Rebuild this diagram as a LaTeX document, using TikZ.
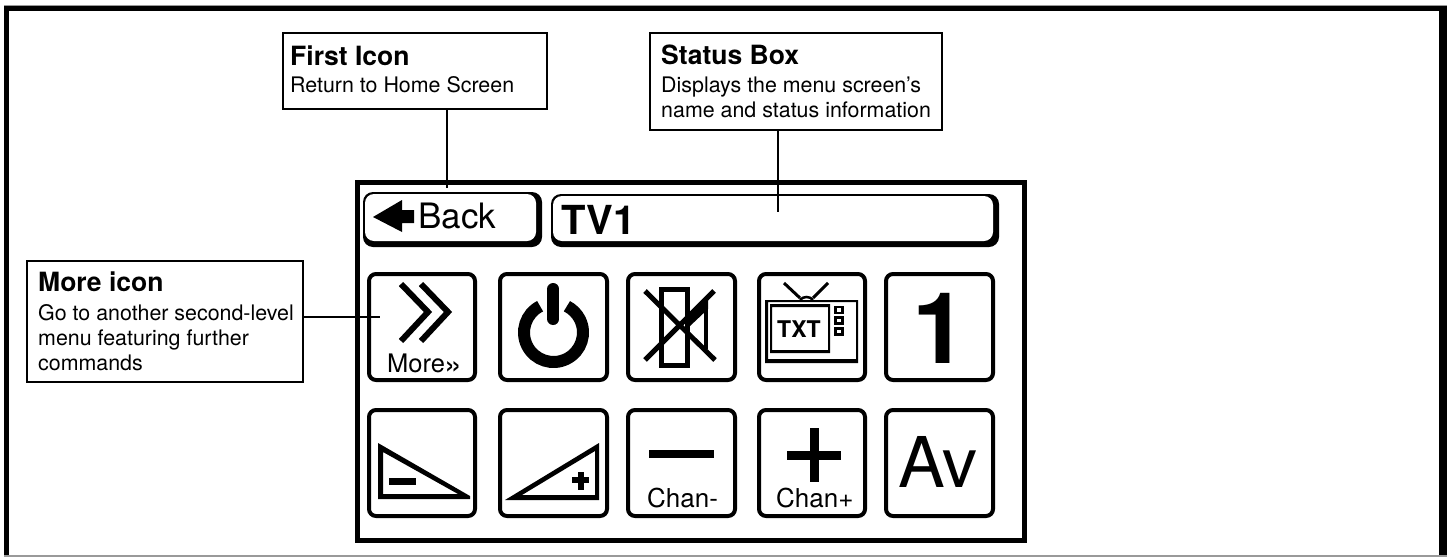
\documentclass[tikz,border=0pt]{standalone}
\usepackage{fontspec}
\setmainfont{TeX Gyre Heros}
\newcommand{\fs}[1]{\fontsize{#1}{#1}\selectfont}
\tikzset{
  x=1pt,y=-1pt,
  callout/.style={draw=black,line width=2.5pt,fill=white,inner sep=0pt},
  leader/.style={draw=black,line width=2.5pt},
  iconbox/.style={draw=black,line width=4pt,fill=white,rounded corners=7pt},
  txt/.style={inner sep=0pt,anchor=base west,text=black},
  glyph/.style={line width=6pt,draw=black,miter limit=10},
}
\begin{document}
\begin{tikzpicture}
\useasboundingbox (0,0) rectangle (1447,557);
\fill[white] (0,0) rectangle (1447,557);
% outer frame
\fill[black!40] (4,5) rectangle (1447,6);
\fill[black] (4,6) rectangle (9,555);
\fill[black] (4,6) rectangle (1447,11);
\fill[black] (1439,6) rectangle (1447,555);
\fill[black!40] (4,555) rectangle (1447,557);
% screen
\draw[line width=5pt] (357.5,182.5) rectangle (1024.5,540.5);
% Back
\fill[black,rounded corners=10pt] (363,192) rectangle (542,247);
\fill[white,rounded corners=9pt] (365,194) rectangle (536,241);
\fill (373,217) -- (402,200) -- (402,210) -- (414,210) -- (414,223) -- (402,223) -- (402,232) -- cycle;
\node[txt] (backlabel) at (418,228) {\fs{35}Back};
% Status
\fill[black,rounded corners=10pt] (551,194) rectangle (999,247);
\fill[white,rounded corners=9pt] (553,196) rectangle (993,241);
\node[txt] (tv) at (561,234) {\fs{40}\bfseries TV1};
% icon boxes
\foreach \nm/\xa/\xb/\ya/\yb in {more/369/475/274/380,power/500/607/274/380,mute/628/735/274/380,txt/759/865/274/380,one/886/993/274/380,
  voldn/369/475/410/516,volup/500/607/410/516,chdn/628/735/410/516,chup/759/865/410/516,av/886/993/410/516}{
  \draw[iconbox] (\xa,\ya) rectangle (\xb,\yb);
  \coordinate (\nm) at (\xa,\ya);
}
% more
\draw[glyph] (401,284) -- (428,312) -- (401,341);
\draw[glyph] (421,284) -- (448,312) -- (421,341);
\node[txt] (morelabel) at (387,372) {\fs{25.5}More\hspace{-1pt}\raisebox{-3pt}{\fs{32}»}};
% power
\begin{scope}[shift={(553.5,332.5)},x=1pt,y=1pt]
\draw[line width=12pt] (117:29.5) arc[start angle=117,end angle=423,radius=29.5];
\end{scope}
\draw[line width=12pt,line cap=round] (553.3,289) -- (553.3,319);
% mute
\draw[line width=5pt] (661.5,289.5) rectangle (687.5,365.5);
\draw[line width=4pt] (705.5,303) -- (705.5,349);
\fill (688,319) -- (708,299) -- (708,309) -- (690,326) -- cycle;
\draw[line width=5pt] (645,291) -- (715,360);
\draw[line width=5pt] (714,291) -- (645,360);
% tv
\draw[line width=3pt] (784,283) -- (800,298) (828,283) -- (813,298);
\draw[line width=2.5pt] (800,300) .. controls (803,296) and (810,296) .. (813,300);
\fill[even odd rule] (765,300) rectangle (858,363) (768,302) rectangle (856,359);
\fill[even odd rule] (770,304) rectangle (830,353) (772,307) rectangle (828,350);
\node[txt] (txtlabel) at (777,337) {\fs{23}\bfseries TXT};
\draw[line width=2.5pt] (835.5,307) rectangle (842.5,313) (835.5,317.5) rectangle (842.5,323.5) (835.5,328.5) rectangle (842.5,334.5);
% one
\node[txt] (onelabel) at (912,363) {\fs{99}\bfseries 1};
% vol down
\fill[even odd rule] (378,443) -- (470,496) -- (470,499) -- (378,499) -- cycle (383,452) -- (458,494) -- (383,494) -- cycle;
\fill (389,478) rectangle (416,485);
% vol up
\fill[even odd rule] (599,443) -- (599,500) -- (505,500) -- cycle (595,451) -- (595,495) -- (522,495) -- cycle;
\fill (572,477) rectangle (589,483);
\fill (577.5,472) rectangle (584,490);
% chan-
\fill (649,450) rectangle (714,458);
\node[txt] (chdnlabel) at (647,507) {\fs{26}Chan-};
% chan+
\fill (787,451) rectangle (841,460);
\fill (810,428) rectangle (819,482);
\node[txt] (chuplabel) at (776,507) {\fs{26}Chan+};
% av
\node[txt] (avlabel) at (898,487) {\fs{70}Av};
% callouts
\draw[callout] (283,33) rectangle (547,109);
\coordinate (firstbox) at (447,109);
\coordinate (firstend) at (447,188);
\node[txt] (firsttitle) at (290,65) {\fs{26.5}\bfseries First Icon};
\node[txt] (firstbody) at (290,92) {\fs{21.4}Return to Home Screen};
\draw[callout] (650,33) rectangle (942,130);
\coordinate (statusbox) at (778,130);
\coordinate (statusend) at (778,212);
\node[txt] (statustitle) at (661,64) {\fs{26.5}\bfseries Status Box};
\node[txt] (statusa) at (661,92) {\fs{21.4}Displays the menu screen’s};
\node[txt] (statusb) at (661,117) {\fs{21.4}name and status information};
\draw[callout] (27,261) rectangle (303,382);
\coordinate (morebox) at (303,317);
\coordinate (moreend) at (380,317);
\node[txt] (moretitle) at (38,291) {\fs{26.5}\bfseries More icon};
\node[txt] (morea) at (38,320) {\fs{21.4}Go to another second-level};
\node[txt] (moreb) at (38,345) {\fs{21.4}menu featuring further};
\node[txt] (morec) at (38,370) {\fs{21.4}commands};
\draw[leader] (firstbox) -- (firstend);
\draw[leader] (statusbox) -- (statusend);
\draw[leader] (morebox) -- (moreend);
\end{tikzpicture}
\end{document}
